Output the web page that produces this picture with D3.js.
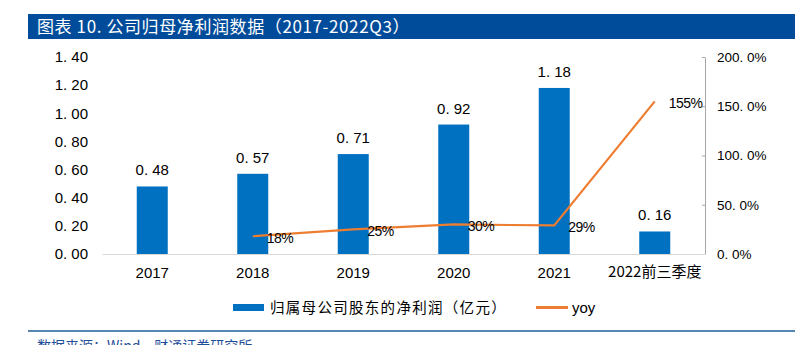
<!DOCTYPE html>
<html>
<head>
<meta charset="utf-8">
<style>
body { margin: 0; background: #fff; }
svg { display: block; }
.tick text { fill: #000; }
.axis--left path, .axis--left line { display: none; }
.axis--right path, .axis--right line { stroke: #a6a6a6; }
.axis--x path { stroke: #d9d9d9; }
.axis--x line { display: none; }
</style>
<script src="https://cdn.jsdelivr.net/npm/d3@7"></script>
</head>
<body>
<svg width="809" height="345"></svg>
<script>

var years = ["2017", "2018", "2019", "2020", "2021", "2022前三季度"],
    profit = [0.48, 0.57, 0.71, 0.92, 1.18, 0.16],
    yoy = [null, 18, 25, 30, 29, 155],
    leftTicks = [0, 0.2, 0.4, 0.6, 0.8, 1.0, 1.2, 1.4],
    rightTicks = [0, 50, 100, 150, 200];

var svg = d3.select("svg"),
    margin = {top: 57, right: 104, bottom: 91, left: 102},
    width = 809 - margin.left - margin.right,
    height = 345 - margin.top - margin.bottom,
    g = svg.append("g").attr("transform", "translate(" + margin.left + "," + margin.top + ")");

var cjk = "'Noto Sans CJK SC', sans-serif",
    latin = "'Liberation Sans', Arial, sans-serif";

// title bar
svg.append("rect")
    .attr("x", 28).attr("y", 14)
    .attr("width", 767).attr("height", 25)
    .attr("fill", "#004C9A");

svg.append("text")
    .attr("x", 37).attr("y", 33)
    .attr("fill", "#fff")
    .style("font-family", cjk)
    .style("font-size", "17px")
    .style("letter-spacing", "0.6px")
    .text("图表 10. 公司归母净利润数据（2017-2022Q3）");

var x = d3.scaleBand()
    .domain(years)
    .range([0, width]);

var y = d3.scaleLinear()
    .domain([0, 1.4])
    .range([height, 0]);

var y2 = d3.scaleLinear()
    .domain([0, 200])
    .range([height, 0]);

var fmt = function(v) { return d3.format(".2f")(v).replace(".", ". "); };

g.append("g")
    .attr("class", "axis axis--left")
    .call(d3.axisLeft(y).tickValues(leftTicks).tickFormat(fmt).tickSize(0).tickPadding(14))
    .call(function(s) { s.selectAll("text").style("font-family", latin).style("font-size", "15px"); })
    .call(function(s) { s.select(".domain").remove(); });

g.append("g")
    .attr("class", "axis axis--right")
    .attr("transform", "translate(" + width + ",0)")
    .call(d3.axisRight(y2).tickValues(rightTicks)
      .tickFormat(function(v) { return d3.format(".1f")(v).replace(".", ". ") + "%"; })
      .tickSize(-3).tickSizeOuter(0).tickPadding(12))
    .call(function(s) { s.selectAll("text").style("font-family", latin).style("font-size", "13.5px"); });

// bars
g.selectAll(".bar")
    .data(profit)
    .enter().append("rect")
      .attr("class", "bar")
      .attr("x", function(d, i) { return x(years[i]) + x.bandwidth() / 2 - 15.5; })
      .attr("width", 31)
      .attr("y", function(d) { return y(d); })
      .attr("height", function(d) { return height - y(d); })
      .attr("fill", "#0070C0");

g.selectAll(".bar-label")
    .data(profit)
    .enter().append("text")
      .attr("class", "bar-label")
      .attr("x", function(d, i) { return x(years[i]) + x.bandwidth() / 2; })
      .attr("y", function(d) { return y(d) - 11; })
      .attr("text-anchor", "middle")
      .style("font-family", latin)
      .style("font-size", "15px")
      .text(fmt);

g.append("g")
    .attr("class", "axis axis--x")
    .attr("transform", "translate(0," + height + ")")
    .call(d3.axisBottom(x).tickSize(0).tickSizeOuter(0).tickPadding(13))
    .call(function(s) {
      s.selectAll("text")
        .style("font-family", function(d) { return d.length > 4 ? cjk : latin; })
        .style("font-size", "15px")
        .attr("dy", function(d) { return d.length > 4 ? "0.65em" : "0.71em"; });
    });

// yoy line
var pts = yoy.map(function(v, i) { return {year: years[i], value: v}; })
    .filter(function(d) { return d.value != null; });

var line = d3.line()
    .x(function(d) { return x(d.year) + x.bandwidth() / 2; })
    .y(function(d) { return y2(d.value); });

g.append("path")
    .datum(pts)
    .attr("fill", "none")
    .attr("stroke", "#ED7D31")
    .attr("stroke-width", 2.2)
    .attr("d", line);

g.selectAll(".yoy-label")
    .data(pts)
    .enter().append("text")
      .attr("class", "yoy-label")
      .attr("x", function(d) { return x(d.year) + x.bandwidth() / 2 + 14; })
      .attr("y", function(d) { return y2(d.value) + 7; })
      .style("font-family", latin)
      .style("font-size", "14px")
      .style("letter-spacing", "-0.5px")
      .text(function(d) { return d.value + "%"; });

// legend
var legend = svg.append("g");

legend.append("rect")
    .attr("x", 233).attr("y", 304)
    .attr("width", 31).attr("height", 7)
    .attr("fill", "#0070C0");

legend.append("text")
    .attr("x", 270).attr("y", 313)
    .style("font-family", cjk)
    .style("font-size", "14.5px")
    .style("letter-spacing", "1.3px")
    .text("归属母公司股东的净利润（亿元）");

legend.append("line")
    .attr("x1", 536).attr("x2", 568)
    .attr("y1", 307.5).attr("y2", 307.5)
    .attr("stroke", "#ED7D31")
    .attr("stroke-width", 3);

legend.append("text")
    .attr("x", 572).attr("y", 313)
    .style("font-family", latin)
    .style("font-size", "15px")
    .text("yoy");

// source footer
svg.append("line")
    .attr("x1", 28).attr("x2", 795)
    .attr("y1", 331).attr("y2", 331)
    .attr("stroke", "#1F5C99")
    .attr("stroke-width", 1.5);

svg.append("text")
    .attr("x", 37).attr("y", 351)
    .attr("fill", "#1F4E99")
    .style("font-family", cjk)
    .style("font-size", "14px")
    .text("数据来源：Wind，财通证券研究所");

</script>
</body>
</html>
